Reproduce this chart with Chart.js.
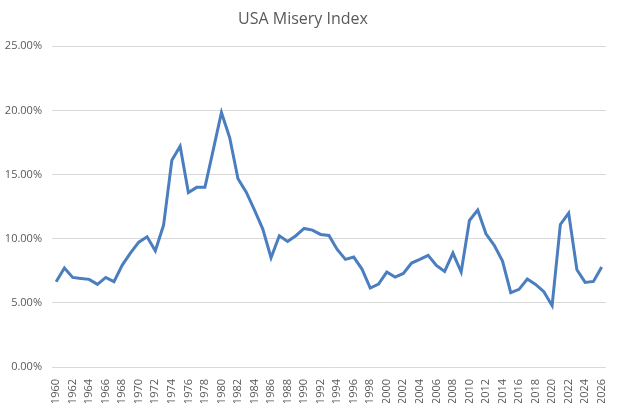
<!DOCTYPE html>
<html>
<head>
<meta charset="utf-8">
<script src="https://cdn.jsdelivr.net/npm/chart.js@4/dist/chart.umd.min.js"></script>
<style>
  html, body { margin: 0; padding: 0; background: #fff; }
  #wrap { width: 619px; height: 403px; position: relative; }
</style>
</head>
<body>
<div id="wrap"><canvas id="miseryChart"></canvas></div>
<script>
// years 1960 - 2026
var years = [];
for (var y = 1960; y <= 2026; y++) years.push(String(y));

// misery index (%)
var misery = [
  6.65, 7.71, 6.98, 6.90, 6.83, 6.44, 6.98, 6.65, 7.94, 8.90,
  9.73, 10.15, 9.06, 11.06, 16.12, 17.21, 13.60, 14.00, 14.00, 16.90,
  19.83, 17.86, 14.67, 13.63, 12.23, 10.75, 8.52, 10.23, 9.79, 10.23,
  10.80, 10.67, 10.33, 10.25, 9.16, 8.39, 8.57, 7.63, 6.15, 6.46,
  7.40, 7.01, 7.29, 8.10, 8.39, 8.70, 7.92, 7.45, 8.88, 7.40,
  11.42, 12.23, 10.38, 9.48, 8.26, 5.79, 6.05, 6.85, 6.44, 5.87,
  4.78, 11.11, 11.99, 7.58, 6.59, 6.67, 7.79
];

var yTicks = [0, 5, 10, 15, 20, 25];

var textColor = '#595959';
var fontFamily = "'Open Sans', 'Noto Sans', sans-serif";

var ctx = document.getElementById('miseryChart').getContext('2d');

var chart = new Chart(ctx, {
  type: 'line',
  data: {
    labels: years,
    datasets: [{
      label: 'Misery Index',
      data: misery,
      borderColor: '#4a7ebf',
      borderWidth: 3,
      pointRadius: 0,
      tension: 0,
      fill: false
    }]
  },
  options: {
    responsive: true,
    maintainAspectRatio: false,
    animation: false,
    layout: { padding: { left: 0, right: 13, top: 0, bottom: 0 } },
    plugins: {
      legend: { display: false },
      tooltip: { enabled: false },
      title: {
        display: true,
        text: 'USA Misery Index',
        color: textColor,
        font: { family: fontFamily, size: 16, weight: 'normal' },
        padding: { top: 10, bottom: 17 }
      }
    },
    scales: {
      x: {
        offset: true,
        grid: { display: false },
        border: { display: false },
        ticks: {
          autoSkip: false,
          maxRotation: 90,
          minRotation: 90,
          padding: 4,
          color: textColor,
          font: { family: fontFamily, size: 11 },
          callback: function (val, i) {
            return i % 2 === 0 ? years[i] : '';
          }
        },
        afterFit: function (scale) { scale.height = 36; }
      },
      y: {
        min: 0,
        max: 25,
        afterBuildTicks: function (scale) {
          scale.ticks = yTicks.map(function (v) { return { value: v }; });
        },
        grid: { color: '#d9d9d9', lineWidth: 1, drawTicks: false },
        border: { display: false },
        ticks: {
          padding: 10,
          color: textColor,
          font: { family: fontFamily, size: 11 },
          callback: function (v) { return v.toFixed(2) + '%'; }
        },
        afterFit: function (scale) { scale.width = 52; }
      }
    }
  }
});
</script>
</body>
</html>
